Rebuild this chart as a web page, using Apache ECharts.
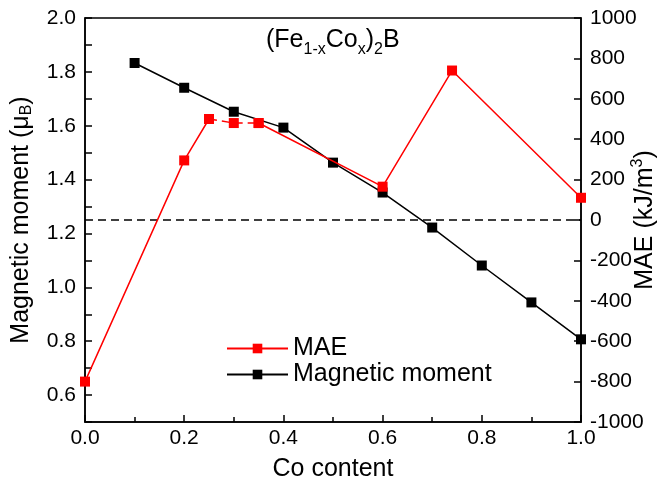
<!DOCTYPE html>
<html><head><meta charset="utf-8">
<script src="https://cdn.jsdelivr.net/npm/echarts@6/dist/echarts.min.js"></script>
<style>html,body{margin:0;padding:0;background:#fff}#c{width:662px;height:482px}</style>
</head><body><div id="c"></div>
<script>
// Co content (x) for magnetic moment
const coMoment = [0.1, 0.2, 0.3, 0.4, 0.5, 0.6, 0.7, 0.8, 0.9, 1.0];
// Magnetic moment (muB), left axis
const momentValues = [1.833, 1.741, 1.652, 1.593, 1.463, 1.352, 1.222, 1.081, 0.944, 0.807];
// Co content (x) for MAE
const coMAE = [0.0, 0.2, 0.25, 0.3, 0.35, 0.6, 0.74, 1.0];
// MAE (kJ/m3), right axis
const maeValues = [-800, 295, 500, 480, 480, 165, 740, 110];
// segments of the MAE curve: [start, end] indices; dashed middle part
const solidA = [0, 2];
const dashedB = [2, 4];
const solidC = [4, 7];

const FONT = 'Liberation Sans, Arial, sans-serif';
const pairs = (xs, ys, r) => xs.slice(r[0], r[1] + 1).map((x, i) => [x, ys[r[0] + i]]);

const chart = echarts.init(document.getElementById('c'), null, {renderer: 'canvas'});
const red = '#ff0000';
const sym = {symbol: 'rect', symbolSize: 10};

chart.setOption({
  animation: false,
  backgroundColor: '#fff',
  grid: {left: 85, right: 81, top: 18, bottom: 60, show: true, borderColor: '#000', borderWidth: 1.5,
    containLabel: false, outerBoundsMode: 'none'},
  legend: {
    orient: 'vertical', left: 226, top: 336, padding: 0, itemGap: 1, itemWidth: 61, itemHeight: 12,
    textStyle: {fontFamily: FONT, fontSize: 25, color: '#000'},
    data: ['MAE', 'Magnetic moment']
  },
  graphic: [{
    type: 'text', left: 266, top: 28,
    style: {
      text: '(Fe{s|1-x}Co{s|x}){s|2}B',
      font: '25px ' + FONT, fill: '#000',
      rich: {s: {fontSize: 16, fontFamily: FONT, padding: [18, 0, 0, 0]}}
    }
  }],
  xAxis: {
    type: 'value', min: 0, max: 1, interval: 0.2,
    name: 'Co content', nameLocation: 'middle', nameGap: 35, nameMoveOverlap: false,
    nameTextStyle: {fontFamily: FONT, fontSize: 25, color: '#000'},
    axisLine: {show: true, onZero: false, lineStyle: {color: '#000', width: 1.5}},
    axisTick: {show: true, inside: true, length: 7, lineStyle: {color: '#000', width: 1.5}},
    minorTick: {show: true, splitNumber: 2, length: 5, lineStyle: {color: '#000', width: 1.5}},
    axisLabel: {fontFamily: FONT, fontSize: 21, color: '#000', margin: 6, formatter: v => v.toFixed(1)},
    splitLine: {show: false}
  },
  yAxis: [{
    type: 'value', min: 0.5, max: 2.0, interval: 0.1, position: 'left',
    name: 'Magnetic moment (μ{s|B})', nameLocation: 'middle', nameGap: 50, nameRotate: 90, nameMoveOverlap: false,
    nameTextStyle: {fontFamily: FONT, fontSize: 25, color: '#000', rich: {s: {fontSize: 16, fontFamily: FONT, padding: [12, 0, 0, 0]}}},
    axisLine: {show: true, lineStyle: {color: '#000', width: 1.5}},
    axisTick: {show: true, inside: true, length: 7, lineStyle: {color: '#000', width: 1.5}},
    axisLabel: {fontFamily: FONT, fontSize: 21, color: '#000', margin: 9,
      formatter: v => (Math.round(v * 10) % 2 === 0 ? v.toFixed(1) : '')},
    splitLine: {show: false}
  }, {
    type: 'value', min: -1000, max: 1000, interval: 200, position: 'right',
    name: 'MAE (kJ/m{t|3})', nameLocation: 'middle', nameGap: 49, nameRotate: 90, nameMoveOverlap: false,
    nameTextStyle: {fontFamily: FONT, fontSize: 25, color: '#000', rich: {t: {fontSize: 16, fontFamily: FONT, padding: [0, 0, 14, 0]}}},
    axisLine: {show: true, lineStyle: {color: '#000', width: 1.5}},
    axisTick: {show: true, inside: true, length: 7, lineStyle: {color: '#000', width: 1.5}},
    axisLabel: {fontFamily: FONT, fontSize: 21, color: '#000', margin: 9, formatter: v => String(v)},
    splitLine: {show: false}
  }],
  series: [
    {name: 'MAE', type: 'line', yAxisIndex: 1, data: pairs(coMAE, maeValues, solidA), z: 5, ...sym,
      itemStyle: {color: red}, lineStyle: {color: red, width: 1.5},
      markLine: {silent: true, symbol: 'none', label: {show: false},
        lineStyle: {color: '#000', width: 1.5, type: [8, 5]}, data: [{yAxis: 0}]}},
    {name: 'MAE', type: 'line', yAxisIndex: 1, data: pairs(coMAE, maeValues, dashedB), z: 5, ...sym,
      itemStyle: {color: red}, lineStyle: {color: red, width: 1.5, type: [8, 5]}},
    {name: 'MAE', type: 'line', yAxisIndex: 1, data: pairs(coMAE, maeValues, solidC), z: 5, ...sym,
      itemStyle: {color: red}, lineStyle: {color: red, width: 1.5}},
    {name: 'Magnetic moment', type: 'line', yAxisIndex: 0, data: coMoment.map((x, i) => [x, momentValues[i]]), z: 3, ...sym,
      itemStyle: {color: '#000'}, lineStyle: {color: '#000', width: 1.5}}
  ]
});
</script></body></html>
